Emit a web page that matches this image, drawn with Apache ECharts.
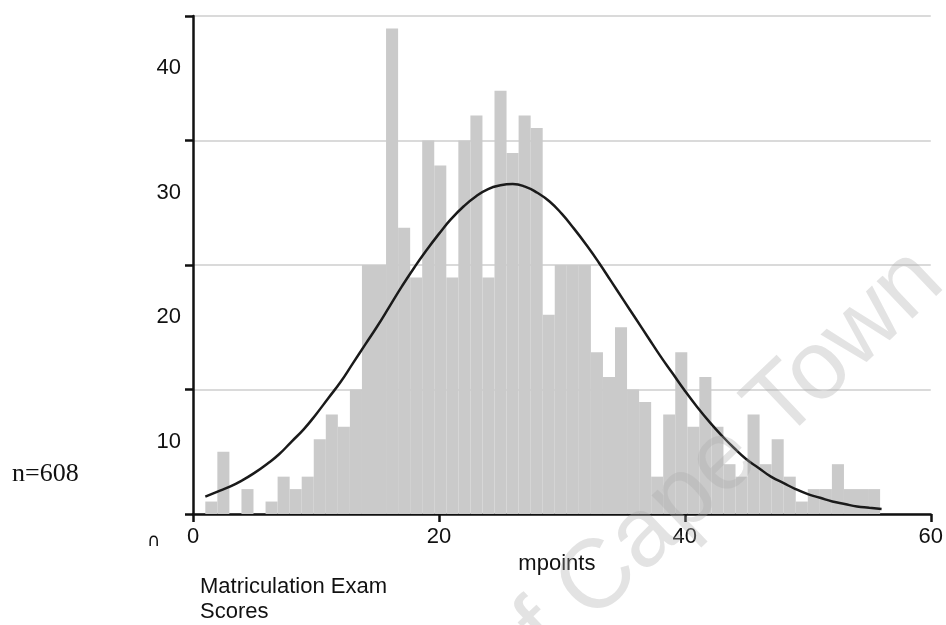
<!DOCTYPE html>
<html><head><meta charset="utf-8">
<script src="https://cdn.jsdelivr.net/npm/echarts@6/dist/echarts.min.js"></script>
<style>html,body{margin:0;padding:0;background:#fff}#c{width:946px;height:625px}</style>
</head><body><div id="c"></div>
<script>
// Histogram counts per bin, bins start at firstBinStart, width binWidth
const binCounts = [1,5,0,2,0,1,3,2,3,6,8,7,10,20,20,39,23,19,30,28,19,30,32,19,34,29,32,31,16,20,20,20,13,11,15,10,9,3,8,13,7,11,7,4,3,8,4,6,3,1,2,2,4,2,2,2];
const firstBinStart = 1;
const binWidth = 0.98;
// Normal curve overlay
const curveX = [1,2,3,4,5,6,7,8,9,10,11,12,13,14,15,16,17,18,19,20,21,22,23,24,25,26,27,28,29,30,31,32,33,34,35,36,37,38,39,40,41,42,43,44,45,46,47,48,49,50,51,52,53,54,55,56];
const curveY = [1.4,1.8,2.2,2.7,3.3,4.0,4.8,5.8,6.8,8.0,9.3,10.6,12.1,13.6,15.1,16.7,18.3,19.8,21.2,22.5,23.7,24.7,25.5,26.1,26.4,26.5,26.3,25.8,25.1,24.1,22.9,21.6,20.2,18.7,17.2,15.7,14.2,12.7,11.3,9.9,8.6,7.4,6.3,5.3,4.4,3.7,3.0,2.5,2.0,1.6,1.3,1.0,0.8,0.6,0.5,0.4];
// y tick labels as printed (they sit offset from the gridlines in the source)
const yTickLabels = [10, 20, 30, 40];
const xAxisName = 'mpoints';
const sideNote = 'n=608';
const caption = 'Matriculation Exam\nScores';
const watermark = 'of Cape Town';

const barData = binCounts.map((c, i) => [firstBinStart + i * binWidth, firstBinStart + (i + 1) * binWidth, c]);
const lineData = curveX.map((x, i) => [x, curveY[i]]);

const chart = echarts.init(document.getElementById('c'), null, {renderer: 'canvas'});
const FONT = 'Liberation Sans, Arial, sans-serif';
chart.setOption({
  backgroundColor: '#fff',
  animation: false,
  grid: {left: 193, right: 14, top: 16, bottom: 111, containLabel: false},
  xAxis: {
    type: 'value', min: 0, max: 60, interval: 20,
    name: xAxisName, nameLocation: 'middle', nameGap: 38,
    nameTextStyle: {fontFamily: FONT, fontSize: 22, color: '#111', padding: [0, 0, 0, -10]},
    axisLine: {lineStyle: {color: '#111', width: 2.5}},
    axisTick: {show: true, length: 8, lineStyle: {color: '#111', width: 2.5}},
    axisLabel: {fontFamily: FONT, fontSize: 22, color: '#111', margin: 12},
    splitLine: {show: false}
  },
  yAxis: [
    {
      type: 'value', min: 0, max: 40, interval: 10,
      axisLine: {show: true, lineStyle: {color: '#111', width: 2.5}},
      axisTick: {show: true, length: 8, lineStyle: {color: '#111', width: 2.5}},
      axisLabel: {show: false},
      splitLine: {show: true, lineStyle: {color: '#dadada', width: 2}}
    },
    {
      type: 'value', min: 4.2, max: 44.2, position: 'left',
      axisLine: {show: false}, axisTick: {show: false}, splitLine: {show: false},
      axisLabel: {fontFamily: FONT, fontSize: 22, color: '#111', margin: 12, customValues: yTickLabels}
    }
  ],
  series: [
    {
      type: 'custom',
      data: barData,
      encode: {x: [0, 1], y: 2},
      renderItem: function (params, api) {
        const p0 = api.coord([api.value(0), api.value(2)]);
        const p1 = api.coord([api.value(1), 0]);
        return {type: 'rect', shape: {x: p0[0], y: p0[1], width: p1[0] - p0[0], height: p1[1] - p0[1]},
                style: {fill: '#cacaca'}};
      },
      z: 2
    },
    {
      type: 'line', data: lineData, smooth: true, showSymbol: false,
      lineStyle: {color: '#1a1a1a', width: 2.5}, z: 3
    }
  ],
  graphic: [
    {type: 'text', left: 12, top: 461, style: {text: sideNote, font: '26px "Liberation Serif", "Times New Roman", serif', fill: '#111'}},
    {type: 'text', left: 200, top: 574, style: {text: caption, font: '22px "Liberation Sans", Arial, sans-serif', fill: '#111', lineHeight: 25}},
    {type: 'text', left: 147, top: 532, style: {text: '\u2229', font: '18px "DejaVu Sans", sans-serif', fill: '#111'}},
    {type: 'text', x: 494, y: 679, rotation: 0.76, z: 100,
     style: {text: watermark, x: 0, y: 0, align: 'left', verticalAlign: 'middle', font: '98px "Liberation Sans", Arial, sans-serif', fill: 'rgba(170,170,170,0.33)'}}
  ]
});
</script>
</body></html>
